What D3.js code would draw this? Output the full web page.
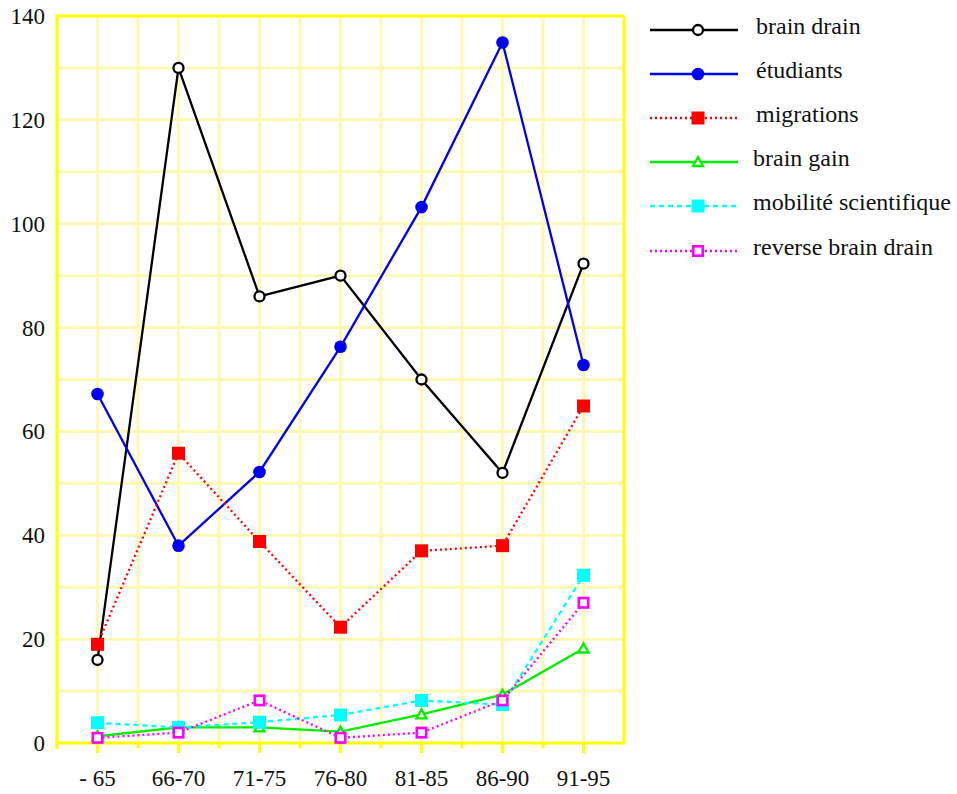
<!DOCTYPE html>
<html>
<head>
<meta charset="utf-8">
<script src="https://cdnjs.cloudflare.com/ajax/libs/d3/7.8.5/d3.min.js"></script>
<style>
  body { margin: 0; background: #fff; }
  text { font-family: "Liberation Serif", "Times New Roman", serif; fill: #111; }
</style>
</head>
<body>
<svg id="chart" width="957" height="794"></svg>
<script>
// periods on the x axis
var periods = ["- 65", "66-70", "71-75", "76-80", "81-85", "86-90", "91-95"];
var yTicks  = [0, 20, 40, 60, 80, 100, 120, 140];

var brainDrain   = [16, 130, 86, 90, 70, 52, 92.3];
var etudiants    = [67.2, 38, 52.2, 76.3, 103.2, 134.9, 72.8];
var migrations   = [19, 55.8, 38.8, 22.3, 37, 38, 64.9];
var brainGain    = [1.3, 3, 3, 2.2, 5.5, 9.3, 18.2];
var mobilite     = [3.9, 3, 4, 5.4, 8.2, 7.4, 32.3];
var reverseDrain = [1, 2, 8.2, 1, 2, 8.2, 27];

var series = [
  {name: "brain drain",            values: brainDrain,   color: "#000000", dash: null,  marker: "circle",   filled: false, tx: 756},
  {name: "étudiants",              values: etudiants,    color: "#0000ee", dash: null,  marker: "circle",   filled: true,  tx: 756},
  {name: "migrations",             values: migrations,   color: "#ff0000", dash: "2,3", marker: "square",   filled: true,  tx: 756},
  {name: "brain gain",             values: brainGain,    color: "#00ee00", dash: null,  marker: "triangle", filled: false, tx: 753},
  {name: "mobilité scientifique",  values: mobilite,     color: "#00ffff", dash: "5,4", marker: "square",   filled: true,  tx: 753},
  {name: "reverse brain drain",    values: reverseDrain, color: "#ff00ff", dash: "2,3", marker: "square",   filled: false, tx: 753}
];

var svg = d3.select("#chart");
var plotL = 57, plotR = 624, plotT = 16, plotB = 743;

var x = d3.scalePoint().domain(periods).range([plotL, plotR]).padding(0.5);
var y = d3.scaleLinear().domain([0, 140]).range([plotB, plotT]);

var grid = svg.append("g");
var gridColor = "#fff8b0";
var axisColor = "#ffff00";

// horizontal grid every 10
d3.range(10, 140, 10).forEach(function (v) {
  grid.append("line").attr("x1", plotL).attr("x2", plotR).attr("y1", y(v)).attr("y2", y(v))
    .attr("stroke", gridColor).attr("stroke-width", 3);
});
// vertical grid at categories and between them
var step = x.step();
d3.range(1, 14).forEach(function (i) {
  var gx = plotL + i * step / 2;
  grid.append("line").attr("x1", gx).attr("x2", gx).attr("y1", plotT).attr("y2", plotB)
    .attr("stroke", gridColor).attr("stroke-width", 3);
});

// frame: bright yellow axes, top and right edges
grid.append("line").attr("x1", plotL).attr("x2", plotR).attr("y1", plotT).attr("y2", plotT)
  .attr("stroke", axisColor).attr("stroke-width", 3);
grid.append("line").attr("x1", plotR).attr("x2", plotR).attr("y1", plotT).attr("y2", plotB)
  .attr("stroke", axisColor).attr("stroke-width", 3);
grid.append("line").attr("x1", plotL).attr("x2", plotL).attr("y1", plotT - 1.5).attr("y2", plotB + 6)
  .attr("stroke", axisColor).attr("stroke-width", 3);
grid.append("line").attr("x1", plotL - 1.5).attr("x2", plotR + 1.5).attr("y1", plotB).attr("y2", plotB)
  .attr("stroke", axisColor).attr("stroke-width", 3);

// x ticks: long at categories, short in between
d3.range(1, 14).forEach(function (i) {
  var gx = plotL + i * step / 2;
  grid.append("line").attr("x1", gx).attr("x2", gx).attr("y1", plotB)
    .attr("y2", plotB + (i % 2 ? 10 : 5))
    .attr("stroke", axisColor).attr("stroke-width", 3);
});

// tick labels
svg.append("g").selectAll("text").data(yTicks).enter().append("text")
  .attr("x", 45).attr("y", function (d) { return y(d) + 8; })
  .attr("text-anchor", "end").attr("font-size", 23)
  .text(function (d) { return d; });

svg.append("g").selectAll("text").data(periods).enter().append("text")
  .attr("x", function (d) { return x(d); }).attr("y", 786)
  .attr("text-anchor", "middle").attr("font-size", 23)
  .text(function (d) { return d; });

function drawMarker(g, s, cx, cy) {
  var fill = s.filled ? s.color : "#fff";
  if (s.marker == "circle") {
    g.append("circle").attr("cx", cx).attr("cy", cy).attr("r", s.filled ? 6.3 : 5)
      .attr("fill", fill).attr("stroke", s.color).attr("stroke-width", s.filled ? 0 : 2.3);
  } else if (s.marker == "square") {
    var h = s.filled ? 6.5 : 4.7;
    g.append("rect").attr("x", cx - h).attr("y", cy - h).attr("width", 2 * h).attr("height", 2 * h)
      .attr("fill", fill).attr("stroke", s.color).attr("stroke-width", s.filled ? 0 : 2.6);
  } else {
    g.append("path").attr("d", "M" + cx + "," + (cy - 5) + "L" + (cx + 5) + "," + (cy + 4) + "L" + (cx - 5) + "," + (cy + 4) + "Z")
      .attr("fill", "#fff").attr("stroke", s.color).attr("stroke-width", 2.3);
  }
}

var line = d3.line()
  .x(function (d, i) { return x(periods[i]); })
  .y(function (d) { return y(d); });

var plot = svg.append("g");
series.forEach(function (s) {
  plot.append("path").attr("d", line(s.values)).attr("fill", "none")
    .attr("stroke", s.color).attr("stroke-width", 2.3)
    .attr("stroke-dasharray", s.dash);
});
series.forEach(function (s) {
  s.values.forEach(function (v, i) { drawMarker(plot, s, x(periods[i]), y(v)); });
});

// legend
var legend = svg.append("g");
var legendY = [30, 74, 118, 162, 206, 251];
series.forEach(function (s, i) {
  var ly = legendY[i];
  legend.append("line").attr("x1", 650).attr("x2", 738).attr("y1", ly).attr("y2", ly)
    .attr("stroke", s.color).attr("stroke-width", 2.3).attr("stroke-dasharray", s.dash);
  drawMarker(legend, s, 698, ly);
  legend.append("text").attr("x", s.tx).attr("y", ly + 4).attr("font-size", 24).text(s.name);
});
</script>
</body>
</html>
